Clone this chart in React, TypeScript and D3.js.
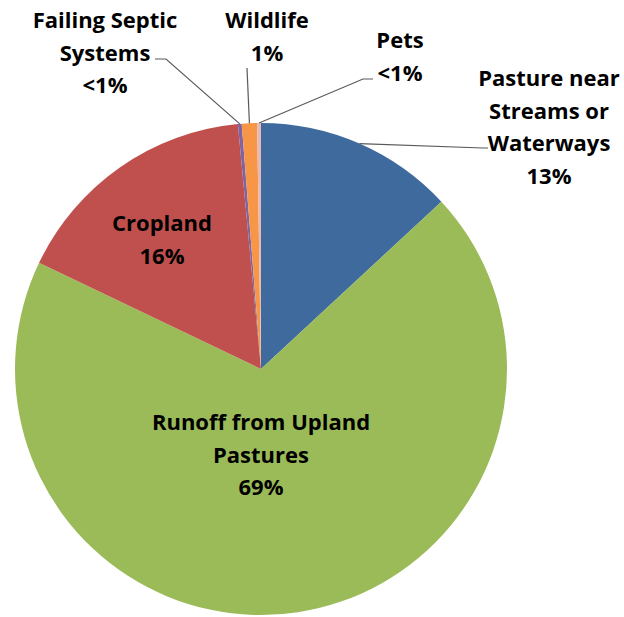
import React from "react";
import * as d3 from "d3";

const categories = [
  "Pasture near Streams or Waterways",
  "Runoff from Upland Pastures",
  "Cropland",
  "Failing Septic Systems",
  "Wildlife",
  "Pets",
];
const values = [13.1, 69.0, 16.4, 0.25, 1.0, 0.25];
const valueLabels = ["13%", "69%", "16%", "<1%", "1%", "<1%"];
const labelLines = [
  ["Pasture near", "Streams or", "Waterways"],
  ["Runoff from Upland", "Pastures"],
  ["Cropland"],
  ["Failing Septic", "Systems"],
  ["Wildlife"],
  ["Pets"],
];
const colors = ["#3F6A9D", "#9BBB59", "#C0504D", "#8064A2", "#F79646", "#E6B9B8"];

const W = 624;
const H = 617;
const cx = 261;
const cy = 369;
const R = 246;
const FONT = "'Open Sans', Lato, sans-serif";
const FS = 22;
const LH = 32.5;

// label layout: center x, first line y (baseline), leader elbow points (null = inside)
const labelLayout = [
  { x: 549, y: 86, leader: [[483, 148], [488, 148]] },
  { x: 261, y: 430, leader: null },
  { x: 162, y: 231, leader: null },
  { x: 105, y: 28, leader: [[166, 59], [155, 59]] },
  { x: 267, y: 28, leader: [[247, 68]] },
  { x: 400, y: 48, leader: [[363, 79], [373, 79]] },
];

export default function App() {
  const pie = d3
    .pie<number>()
    .sort(null)
    .startAngle(0)
    .endAngle(2 * Math.PI)
    .value((d) => d);
  const arcs = pie(values);
  const arc = d3.arc<d3.PieArcDatum<number>>().innerRadius(0).outerRadius(R);

  return (
    <svg
      width={W}
      height={H}
      style={{ position: "absolute", left: 0, top: 0, background: "#fff" }}
    >
      <g transform={`translate(${cx},${cy})`}>
        {arcs.map((a, i) => (
          <path key={categories[i]} d={arc(a) || ""} fill={colors[i]} />
        ))}
      </g>
      {arcs.map((a, i) => {
        const L = labelLayout[i];
        if (!L.leader) return null;
        const mid = (a.startAngle + a.endAngle) / 2;
        const ex = cx + R * Math.sin(mid);
        const ey = cy - R * Math.cos(mid);
        const pts = [[ex, ey], ...L.leader];
        const line = d3.line()(pts as [number, number][]);
        return (
          <path
            key={"l" + i}
            d={line || ""}
            fill="none"
            stroke="#595959"
            strokeWidth={1.2}
          />
        );
      })}
      {labelLayout.map((L, i) => {
        const lines = [...labelLines[i], valueLabels[i]];
        return (
          <text
            key={"t" + i}
            x={L.x}
            y={L.y}
            textAnchor="middle"
            fontFamily={FONT}
            fontWeight="bold"
            fontSize={FS}
            fill="#000"
          >
            {lines.map((s, k) => (
              <tspan key={k} x={L.x} y={L.y + k * LH}>
                {s}
              </tspan>
            ))}
          </text>
        );
      })}
    </svg>
  );
}
